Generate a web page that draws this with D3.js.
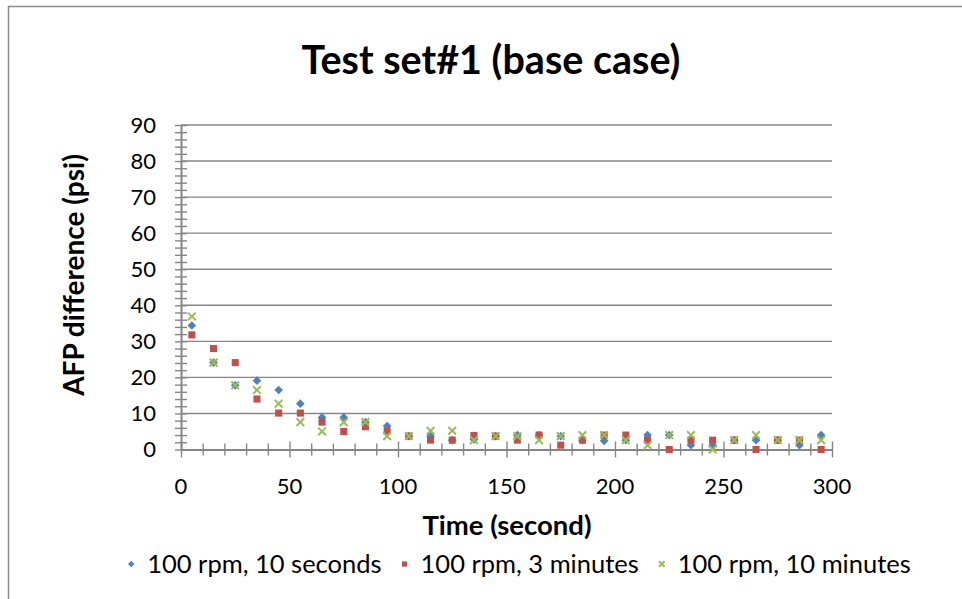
<!DOCTYPE html>
<html>
<head>
  <meta charset="utf-8">
  <script src="https://d3js.org/d3.v7.min.js"></script>
  <style>
    body { margin: 0; background: #fff; }
    text { font-family: Lato, "Open Sans", sans-serif; fill: #000; }
  </style>
</head>
<body>
  <div id="chart"></div>
<script>
  // values
  const times = [5, 15, 25, 35, 45, 55, 65, 75, 85, 95, 105, 115, 125, 135, 145,
    155, 165, 175, 185, 195, 205, 215, 225, 235, 245, 255, 265, 275, 285, 295]
  const tenSeconds = [34.4, 24.1, 17.8, 19.1, 16.5, 12.7, 8.9, 8.9, 7.6, 6.5, 3.7, 3.7, 2.6, 2.8, 3.7,
    4.0, 4.0, 3.7, 2.6, 2.4, 2.6, 4.0, 4.0, 1.2, 1.2, 2.6, 2.6, 2.6, 1.2, 4.0]
  const threeMinutes = [31.8, 28.0, 24.1, 14.0, 10.1, 10.1, 7.6, 5.0, 6.3, 5.1, 3.7, 2.6, 2.6, 3.9, 3.7,
    2.6, 4.0, 1.2, 2.6, 4.0, 4.0, 2.6, 0, 2.6, 2.6, 2.6, 0, 2.6, 2.6, 0]
  const tenMinutes = [36.9, 24.1, 17.8, 16.5, 12.7, 7.6, 5.0, 7.6, 7.6, 3.7, 3.7, 5.2, 5.2, 2.6, 3.7,
    3.7, 2.6, 3.7, 4.0, 4.0, 2.6, 1.2, 4.0, 4.0, 0, 2.6, 4.0, 2.6, 2.6, 2.6]
  const seriesNames = ["100 rpm, 10 seconds", "100 rpm, 3 minutes", "100 rpm, 10 minutes"]
  const xTicks = [0, 50, 100, 150, 200, 250, 300]
  const yTicks = [0, 10, 20, 30, 40, 50, 60, 70, 80, 90]

  const width = 962
  const height = 599
  const plot = { left: 181, right: 832, top: 125, bottom: 449.5 }
  const gridColor = "#868686"

  const series = [
    { name: seriesNames[0], values: tenSeconds, color: "#4F81BD", shape: "diamond" },
    { name: seriesNames[1], values: threeMinutes, color: "#C0504D", shape: "square" },
    { name: seriesNames[2], values: tenMinutes, color: "#9BBB59", shape: "cross" }
  ]

  const svg = d3.select("#chart").append("svg")
    .attr("width", width)
    .attr("height", height)

  // chart border (only top & left visible in the crop)
  svg.append("rect")
    .attr("x", 8.5).attr("y", 6.5)
    .attr("width", 1000).attr("height", 700)
    .attr("fill", "none").attr("stroke", "#8c8c8c").attr("stroke-width", 1.5)

  const x = d3.scaleLinear().domain([0, 300]).range([plot.left, plot.right])
  const y = d3.scaleLinear().domain([0, 90]).range([plot.bottom, plot.top])

  // horizontal gridlines
  svg.append("g")
    .selectAll("line")
    .data(yTicks.slice(1))
    .join("line")
    .attr("x1", plot.left).attr("x2", plot.right)
    .attr("y1", d => y(d)).attr("y2", d => y(d))
    .attr("stroke", gridColor).attr("stroke-width", 1.4)

  // y axis: minor ticks every 2, crossing the line
  const yAxis = d3.axisLeft(y).tickValues(d3.range(0, 91, 2)).tickSizeInner(6).tickSizeOuter(0).tickFormat("")
  svg.append("g")
    .attr("transform", `translate(${plot.left},0)`)
    .call(yAxis)
    .call(g => g.selectAll(".tick line").attr("x2", 6).attr("x1", -6).attr("stroke", gridColor).attr("stroke-width", 1.4))
    .call(g => g.select(".domain").attr("stroke", gridColor).attr("stroke-width", 2))

  svg.append("g")
    .selectAll("text")
    .data(yTicks)
    .join("text")
    .attr("x", 156)
    .attr("y", d => y(d))
    .attr("dy", "0.36em")
    .attr("text-anchor", "end")
    .style("font-size", "22px")
    .text(d => d)

  // x axis: minor ticks every 10, majors every 50
  const xAxis = d3.axisBottom(x).tickValues(d3.range(0, 301, 10)).tickSizeOuter(0).tickFormat("")
  svg.append("g")
    .attr("transform", `translate(0,${plot.bottom})`)
    .call(xAxis)
    .call(g => g.selectAll(".tick line")
      .attr("y1", d => d % 50 === 0 ? -8 : -6)
      .attr("y2", d => d % 50 === 0 ? 8 : 6)
      .attr("stroke", gridColor).attr("stroke-width", 1.4))
    .call(g => g.select(".domain").attr("stroke", gridColor).attr("stroke-width", 2))

  svg.append("g")
    .selectAll("text")
    .data(xTicks)
    .join("text")
    .attr("x", d => x(d))
    .attr("y", 494)
    .attr("text-anchor", "middle")
    .style("font-size", "22px")
    .text(d => d)

  // markers
  function drawMarker(sel, s, k) {
    if (s.shape === "diamond") {
      sel.append("path").attr("d", d3.symbol().type(d3.symbolDiamond2).size(48 * k)).attr("fill", s.color)
    } else if (s.shape === "square") {
      sel.append("path").attr("d", d3.symbol().type(d3.symbolSquare2).size(64 * k)).attr("fill", s.color)
    } else {
      sel.append("path").attr("d", d3.symbol().type(d3.symbolX).size(40 * k)).attr("fill", "none")
        .attr("stroke", s.color).attr("stroke-width", 2)
    }
  }

  series.forEach(s => {
    const g = svg.append("g")
    g.selectAll("g")
      .data(times.map((t, i) => [t, s.values[i]]))
      .join("g")
      .attr("transform", d => `translate(${x(d[0])},${y(d[1])})`)
      .each(function () { drawMarker(d3.select(this), s, 1) })
  })

  // titles
  svg.append("text")
    .attr("x", 491).attr("y", 74)
    .attr("text-anchor", "middle")
    .style("font-size", "39.5px").style("font-weight", "bold")
    .text("Test set#1 (base case)")

  svg.append("text")
    .attr("transform", `translate(84,275) rotate(-90)`)
    .attr("text-anchor", "middle")
    .style("font-size", "28px").style("font-weight", "bold")
    .text("AFP difference (psi)")

  svg.append("text")
    .attr("x", 507).attr("y", 535)
    .attr("text-anchor", "middle")
    .style("font-size", "27.5px").style("font-weight", "bold")
    .text("Time (second)")

  // legend
  const legend = svg.append("g")
  const items = legend.selectAll("g")
    .data(series)
    .join("g")
  items.append("text")
    .attr("x", 16).attr("y", 9)
    .style("font-size", "25.5px")
    .text(d => d.name)
  items.append("g").each(function (d) { drawMarker(d3.select(this), d, 0.55) })

  let cursor = 0
  items.each(function () {
    const w = d3.select(this).select("text").node().getComputedTextLength()
    d3.select(this).attr("data-x", cursor)
    cursor += 16 + w + 23
  })
  const total = cursor - 23
  const start = 521 - total / 2
  items.attr("transform", function () {
    return `translate(${start + (+d3.select(this).attr("data-x"))},564)`
  })
</script>
</body>
</html>
